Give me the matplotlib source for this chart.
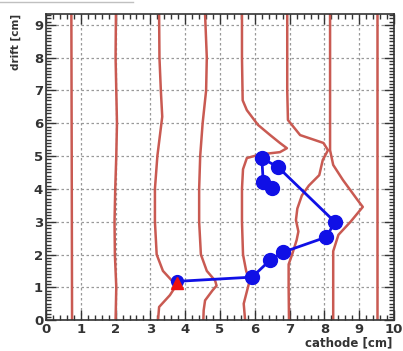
import matplotlib.pyplot as plt
from matplotlib.ticker import MultipleLocator
import numpy as np

# Equipotential-style contour lines, one (x, y) list per line, in cm
contour_x = [
    [0.75, 0.74, 0.73],
    [2.0, 2.02, 1.98, 1.97, 1.99, 2.02, 2.04, 2.02, 2.0, 2.01],
    [3.22, 3.25, 3.56, 3.75, 3.62, 3.36, 3.18, 3.13, 3.13, 3.2, 3.34, 3.3, 3.26, 3.25],
    [4.52, 4.53, 4.57, 4.78, 4.9, 4.86, 4.62, 4.45, 4.4, 4.4, 4.43, 4.5, 4.6, 4.62, 4.57],
    [5.72, 5.68, 5.85, 5.75, 5.66, 5.63, 5.63, 5.66, 5.77, 6.15, 6.72, 6.92, 6.72, 6.44, 6.09, 5.77, 5.65, 5.63, 5.63],
    [6.98, 6.97, 6.97, 7.07, 7.2, 7.25, 7.18, 7.22, 7.35, 7.55, 7.85, 7.95, 8.1, 7.97, 7.3, 6.95, 6.93, 6.93, 6.93],
    [8.25, 8.25, 8.25, 8.4, 8.75, 9.1, 8.95, 8.53, 8.25, 8.16, 8.16, 8.16, 8.16, 8.16],
    [9.52, 9.52, 9.52],
]
contour_y = [
    [0.0, 5.0, 9.33],
    [0, 1, 2, 3, 4, 5, 6, 7, 8, 9.33],
    [0.0, 0.4, 0.76, 1.07, 1.2, 1.5, 2.0, 3.0, 4.0, 5.0, 6.2, 7.0, 8.0, 9.33],
    [0.0, 0.3, 0.6, 0.9, 1.05, 1.2, 1.5, 2.0, 3.0, 4.0, 5.0, 6.0, 7.0, 8.0, 9.33],
    [0.0, 0.5, 1.2, 1.5, 2.0, 3.0, 4.0, 4.6, 4.94, 5.05, 5.12, 5.24, 5.4, 5.64, 5.95, 6.4, 6.7, 8.0, 9.33],
    [0.0, 1.0, 1.7, 2.0, 2.44, 2.7, 3.05, 3.4, 3.8, 4.1, 4.42, 4.88, 5.18, 5.4, 5.64, 6.1, 7.0, 8.0, 9.33],
    [0.0, 1.0, 2.1, 2.6, 3.0, 3.45, 3.66, 4.27, 4.73, 5.18, 6.0, 7.0, 8.0, 9.33],
    [0.0, 5.0, 9.33],
]

# Reconstructed track hits
track_x = [3.75, 5.92, 6.44, 6.81, 8.05, 8.3, 6.67, 6.2, 6.24, 6.49]
track_y = [1.18, 1.31, 1.83, 2.07, 2.53, 2.99, 4.66, 4.94, 4.21, 4.02]

# Track origin
origin_x = [3.77]
origin_y = [1.12]

fig = plt.figure(figsize=(4.03, 3.51), dpi=100)
ax = fig.add_axes([0.114, 0.088, 0.864, 0.872])

for cx, cy in zip(contour_x, contour_y):
    ax.plot(cx, cy, color='#c95a52', lw=1.8, zorder=2,
            solid_joinstyle='round', solid_capstyle='round')

ax.plot(track_x, track_y, color='#1010e6', lw=2.0, zorder=3)
ax.plot(track_x[1:], track_y[1:], 'o', color='#1010e6', ms=10, zorder=4)
ax.plot(track_x[:1], track_y[:1], 'o', color='#1010e6', ms=8.5, zorder=4)
ax.plot(origin_x, origin_y, '^', color='#ee1010', ms=8, zorder=5)

ax.set_xlim(0, 10)
ax.set_ylim(0, 9.33)

ax.xaxis.set_major_locator(MultipleLocator(1))
ax.xaxis.set_minor_locator(MultipleLocator(0.2))
ax.yaxis.set_major_locator(MultipleLocator(1))
ax.yaxis.set_minor_locator(MultipleLocator(0.1))
ax.tick_params(which='both', direction='in', top=True, right=True, width=1.0, color='#333333')
ax.tick_params(which='major', length=7)
ax.tick_params(which='minor', length=3.5)
ax.tick_params(labelsize=9.5, pad=2)
for lbl in ax.get_xticklabels() + ax.get_yticklabels():
    lbl.set_fontweight('bold')
    lbl.set_color('#333333')

ax.grid(which='major', color='#999999', linestyle=(0, (2, 2)), lw=0.9, zorder=1)
for s in ax.spines.values():
    s.set_color('#333333')
    s.set_linewidth(1.2)

fig.text(0.04, 0.96, 'drift [cm]', rotation=90, ha='center', va='top',
         fontsize=7.5, fontweight='bold', color='#333333')
fig.text(0.973, 0.005, 'cathode [cm]', ha='right', va='bottom',
         fontsize=8.5, fontweight='bold', color='#333333')

# thin frame remnant along the top edge
fig.add_artist(plt.Line2D([0, 0.33], [0.995, 0.995], color='#c0c0c0', lw=1.0))

fig.savefig('out.png', dpi=100)
